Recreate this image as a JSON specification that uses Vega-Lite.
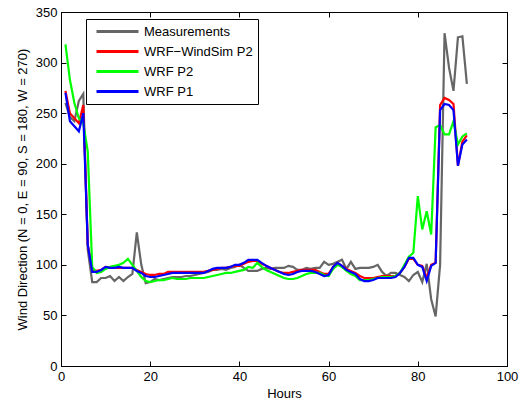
{
  "$schema": "https://vega.github.io/schema/vega-lite/v6.json",
  "width": 446,
  "height": 354,
  "autosize": {"type": "none"},
  "padding": {"left": 61, "top": 12, "right": 21, "bottom": 41},
  "background": "white",
  "config": {
    "view": {"stroke": "black", "strokeWidth": 1},
    "font": "Liberation Sans",
    "axis": {
      "grid": false,
      "labelFont": "Liberation Sans",
      "labelFontSize": 13,
      "labelColor": "black",
      "labelFlush": false,
      "titleFont": "Liberation Sans",
      "titleFontSize": 13,
      "titleFontWeight": "normal",
      "titleColor": "black",
      "domainColor": "black",
      "tickColor": "black",
      "tickSize": -5,
      "labelPadding": 9
    }
  },
  "data": {
    "values": [
      {"h":1,"m":260,"r":272,"g":318,"b":270},
      {"h":2,"m":246,"r":250,"g":283,"b":242},
      {"h":3,"m":242,"r":245,"g":260,"b":237},
      {"h":4,"m":262,"r":240,"g":245,"b":232},
      {"h":5,"m":269,"r":258,"g":240,"b":250},
      {"h":6,"m":115,"r":120,"g":212,"b":120},
      {"h":7,"m":83,"r":95,"g":98,"b":93},
      {"h":8,"m":83,"r":94,"g":92,"b":93},
      {"h":9,"m":87,"r":95,"g":93,"b":95},
      {"h":10,"m":87,"r":98,"g":96,"b":98},
      {"h":11,"m":89,"r":97,"g":98,"b":97},
      {"h":12,"m":84,"r":97,"g":99,"b":97},
      {"h":13,"m":88,"r":97,"g":100,"b":98},
      {"h":14,"m":84,"r":97,"g":102,"b":97},
      {"h":15,"m":88,"r":97,"g":106,"b":97},
      {"h":16,"m":91,"r":97,"g":100,"b":97},
      {"h":17,"m":132,"r":95,"g":94,"b":94},
      {"h":18,"m":100,"r":93,"g":88,"b":92},
      {"h":19,"m":82,"r":91,"g":84,"b":89},
      {"h":20,"m":83,"r":90,"g":83,"b":88},
      {"h":21,"m":86,"r":90,"g":84,"b":88},
      {"h":22,"m":85,"r":91,"g":85,"b":89},
      {"h":23,"m":86,"r":91,"g":85,"b":90},
      {"h":24,"m":87,"r":93,"g":86,"b":91},
      {"h":25,"m":88,"r":93,"g":87,"b":92},
      {"h":26,"m":88,"r":93,"g":86,"b":92},
      {"h":27,"m":88,"r":93,"g":86,"b":92},
      {"h":28,"m":89,"r":93,"g":86,"b":92},
      {"h":29,"m":89,"r":93,"g":87,"b":92},
      {"h":30,"m":90,"r":93,"g":87,"b":92},
      {"h":31,"m":91,"r":93,"g":87,"b":92},
      {"h":32,"m":92,"r":93,"g":87,"b":92},
      {"h":33,"m":93,"r":94,"g":88,"b":94},
      {"h":34,"m":95,"r":95,"g":89,"b":96},
      {"h":35,"m":95,"r":96,"g":90,"b":97},
      {"h":36,"m":96,"r":97,"g":91,"b":97},
      {"h":37,"m":95,"r":97,"g":92,"b":97},
      {"h":38,"m":97,"r":98,"g":92,"b":98},
      {"h":39,"m":98,"r":99,"g":93,"b":100},
      {"h":40,"m":100,"r":99,"g":94,"b":100},
      {"h":41,"m":97,"r":101,"g":95,"b":102},
      {"h":42,"m":94,"r":103,"g":98,"b":105},
      {"h":43,"m":94,"r":104,"g":97,"b":105},
      {"h":44,"m":94,"r":104,"g":102,"b":105},
      {"h":45,"m":96,"r":101,"g":98,"b":102},
      {"h":46,"m":97,"r":99,"g":95,"b":99},
      {"h":47,"m":96,"r":97,"g":93,"b":97},
      {"h":48,"m":97,"r":95,"g":91,"b":95},
      {"h":49,"m":97,"r":93,"g":89,"b":93},
      {"h":50,"m":97,"r":92,"g":87,"b":91},
      {"h":51,"m":99,"r":92,"g":86,"b":90},
      {"h":52,"m":98,"r":93,"g":86,"b":91},
      {"h":53,"m":95,"r":94,"g":87,"b":93},
      {"h":54,"m":95,"r":95,"g":89,"b":94},
      {"h":55,"m":97,"r":95,"g":91,"b":94},
      {"h":56,"m":96,"r":95,"g":92,"b":94},
      {"h":57,"m":97,"r":95,"g":92,"b":93},
      {"h":58,"m":97,"r":93,"g":92,"b":91},
      {"h":59,"m":103,"r":91,"g":90,"b":89},
      {"h":60,"m":100,"r":91,"g":89,"b":90},
      {"h":61,"m":101,"r":98,"g":96,"b":98},
      {"h":62,"m":103,"r":102,"g":100,"b":102},
      {"h":63,"m":105,"r":99,"g":98,"b":99},
      {"h":64,"m":96,"r":96,"g":94,"b":95},
      {"h":65,"m":103,"r":94,"g":91,"b":93},
      {"h":66,"m":96,"r":92,"g":89,"b":91},
      {"h":67,"m":97,"r":89,"g":85,"b":86},
      {"h":68,"m":97,"r":87,"g":85,"b":84},
      {"h":69,"m":97,"r":87,"g":85,"b":84},
      {"h":70,"m":98,"r":87,"g":86,"b":85},
      {"h":71,"m":100,"r":88,"g":87,"b":87},
      {"h":72,"m":93,"r":89,"g":88,"b":87},
      {"h":73,"m":89,"r":89,"g":88,"b":87},
      {"h":74,"m":92,"r":89,"g":88,"b":87},
      {"h":75,"m":92,"r":89,"g":89,"b":88},
      {"h":76,"m":90,"r":92,"g":92,"b":92},
      {"h":77,"m":88,"r":98,"g":100,"b":98},
      {"h":78,"m":84,"r":106,"g":108,"b":107},
      {"h":79,"m":90,"r":106,"g":112,"b":107},
      {"h":80,"m":93,"r":100,"g":168,"b":100},
      {"h":81,"m":83,"r":99,"g":135,"b":98},
      {"h":82,"m":101,"r":87,"g":153,"b":84},
      {"h":83,"m":66,"r":100,"g":130,"b":99},
      {"h":84,"m":49,"r":102,"g":236,"b":102},
      {"h":85,"m":100,"r":258,"g":238,"b":253},
      {"h":86,"m":329,"r":265,"g":229,"b":259},
      {"h":87,"m":295,"r":263,"g":229,"b":258},
      {"h":88,"m":272,"r":259,"g":242,"b":253},
      {"h":89,"m":325,"r":198,"g":219,"b":198},
      {"h":90,"m":326,"r":222,"g":227,"b":219},
      {"h":91,"m":279,"r":228,"g":230,"b":224}
    ]
  },
  "transform": [{"fold": ["m", "r", "g", "b"], "as": ["series", "value"]}],
  "layer": [
    {
      "mark": {"type": "line", "strokeWidth": 2.2, "clip": true},
      "encoding": {
        "x": {"field": "h", "type": "quantitative", "scale": {"domain": [0, 100], "nice": false}, "axis": {"orient": "bottom", "title": "Hours", "values": [0, 20, 40, 60, 80, 100], "titlePadding": 4}},
        "y": {"field": "value", "type": "quantitative", "scale": {"domain": [0, 350], "nice": false}, "axis": {"orient": "left", "title": "Wind Direction (N = 0, E = 90, S = 180, W = 270)", "values": [0, 50, 100, 150, 200, 250, 300, 350], "titlePadding": 6}},
        "color": {
          "field": "series",
          "type": "nominal",
          "scale": {"domain": ["m", "r", "g", "b"], "range": ["#666666", "#ff0000", "#00ff00", "#0000ff"]},
          "legend": {
            "title": null,
            "orient": "none",
            "legendX": 25,
            "legendY": 7,
            "direction": "vertical",
            "symbolType": "M-3.5,0H3.5",
            "symbolSize": 144,
            "symbolStrokeWidth": 3,
            "symbolOffset": 19,
            "labelOffset": 19,
            "labelFont": "Liberation Sans",
            "labelFontSize": 13,
            "labelColor": "black",
            "labelExpr": "datum.value === 'm' ? 'Measurements' : datum.value === 'r' ? 'WRF−WindSim P2' : datum.value === 'g' ? 'WRF P2' : 'WRF P1'",
            "strokeColor": "black",
            "fillColor": "white",
            "padding": 5,
            "rowPadding": 5
          }
        }
      }
    },
    {
      "mark": {"type": "point", "opacity": 0},
      "encoding": {
        "x": {"field": "h", "type": "quantitative", "axis": {"orient": "top", "title": null, "labels": false, "values": [0, 20, 40, 60, 80, 100]}},
        "y": {"field": "value", "type": "quantitative", "axis": {"orient": "right", "title": null, "labels": false, "values": [0, 50, 100, 150, 200, 250, 300, 350]}}
      }
    }
  ],
  "resolve": {"axis": {"x": "independent", "y": "independent"}}
}
